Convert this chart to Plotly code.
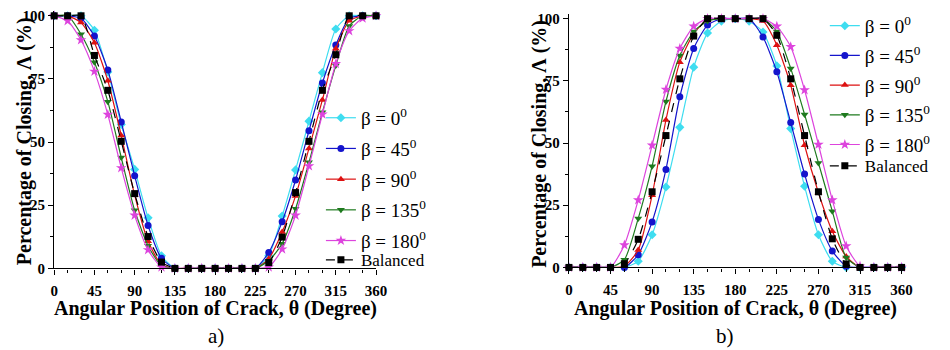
import plotly.graph_objects as go

theta = [0, 15, 30, 45, 60, 75, 90, 105, 120, 135, 150, 165, 180, 195, 210, 225,
         240, 255, 270, 285, 300, 315, 330, 345, 360]

# chart a)
a_b0 = [100, 100, 100, 94.3, 77.8, 57, 39.2, 20, 5, 0, 0, 0, 0, 0, 0, 0,
        5, 20.7, 39, 58.3, 77.5, 94.8, 100, 100, 100]
a_b45 = [100, 100, 99, 92, 78.5, 58, 36.7, 17, 4, 0, 0, 0, 0, 0, 0, 0,
         6.3, 18.5, 35, 54.5, 73.4, 88.4, 99, 100, 100]
a_b90 = [100, 100, 97.3, 89.3, 74.3, 52.6, 29, 10.7, 1.5, 0, 0, 0, 0, 0, 0, 0,
         3.8, 14.4, 28.7, 47.5, 66.7, 87, 98, 100, 100]
a_b135 = [100, 100, 92.7, 81.6, 66, 43.9, 23, 9, 1, 0, 0, 0, 0, 0, 0, 0,
          3, 9.8, 23.6, 42, 61.8, 80.3, 96, 100, 100]
a_b180 = [100, 98, 90.4, 78, 60.9, 39.8, 21, 7.3, 0.5, 0, 0, 0, 0, 0, 0, 0,
          0.5, 7.6, 21, 40.5, 61, 81, 94, 99, 100]
a_bal = [100, 100, 100, 84.3, 70.5, 50.3, 29.6, 12.6, 2.5, 0, 0, 0, 0, 0, 0, 0,
         2.3, 12.4, 30, 50.3, 70.5, 84.6, 100, 100, 100]

# chart b)
b_b0 = [0, 0, 0, 0, 0, 2.5, 13.1, 32.3, 56.3, 80.5, 94.2, 99, 100, 99, 94.6, 81,
        55.8, 32.6, 13.1, 2.5, 0, 0, 0, 0, 0]
b_b45 = [0, 0, 0, 0, 0, 5.1, 18.3, 39.4, 68.6, 88, 97.4, 100, 100, 100, 92.6, 78.6,
         58.2, 37.5, 19.3, 6.6, 0.5, 0, 0, 0, 0]
b_b90 = [0, 0, 0, 0, 0.5, 7, 29, 59.3, 82.5, 94, 99.5, 100, 100, 100, 99, 89.3,
         73.2, 49.1, 30, 14.5, 4.4, 0, 0, 0, 0]
b_b135 = [0, 0, 0, 0, 3.1, 19.7, 40.7, 66.7, 85.2, 94.8, 99, 100, 100, 100, 100, 94.8,
          80, 61.5, 42, 22.6, 4, 0, 0, 0, 0]
b_b180 = [0, 0, 0, 0, 9, 27.1, 49.1, 71.5, 88, 96.9, 100, 100, 100, 100, 100, 96.9,
          88.7, 71.3, 49.4, 27.1, 8.6, 0.5, 0, 0, 0]
b_bal = [0, 0, 0, 0, 1.5, 11.3, 30.4, 53, 75.8, 93, 100, 100, 100, 100, 100, 93.3,
         75.8, 53, 30.4, 11.5, 1.4, 0, 0, 0, 0]

names = ["β = 0<sup>0</sup>", "β = 45<sup>0</sup>", "β = 90<sup>0</sup>",
         "β = 135<sup>0</sup>", "β = 180<sup>0</sup>", "Balanced"]
colors = ["#3EDDF0", "#1414CC", "#DD1111", "#1E7A1E", "#DD44DD", "#000000"]
symbols = ["diamond", "circle", "triangle-up", "triangle-down", "star", "square"]
dashes = ["solid"] * 5 + ["dash"]

SERIF = "Liberation Serif"

fig = go.Figure()

for ser_list, xa, ya, legs, tag in [
    ([a_b0, a_b45, a_b90, a_b135, a_b180, a_bal], "x", "y", ("legend", "legend3"), "a"),
    ([b_b0, b_b45, b_b90, b_b135, b_b180, b_bal], "x2", "y2", ("legend2", "legend4"), "b"),
]:
    for i, (vals, nm, col, sym, ds) in enumerate(zip(ser_list, names, colors, symbols, dashes)):
        fig.add_trace(go.Scatter(
            x=theta, y=vals, name=nm, mode="lines+markers",
            line=dict(color=col, width=1.2, dash=ds, shape="spline", smoothing=0.6),
            marker=dict(color=col, symbol=sym, size=7 if sym != "star" else 8),
            xaxis=xa, yaxis=ya, legend=legs[1] if i == 5 else legs[0],
            legendgroup=f"{tag}{i}", cliponaxis=False,
        ))

W, H = 950, 350


def px_x(p):
    return p / W


def px_y(p):
    return (H - p) / H


axis_common = dict(
    showline=True, linecolor="black", linewidth=1.3, showgrid=False, zeroline=False,
    ticks="outside", ticklen=5, tickwidth=1.2, tickcolor="black",
    tickfont=dict(family=SERIF, size=15, color="black", weight="bold"),
    mirror=False,
)

xcommon = dict(axis_common, range=[0, 360], tickmode="array",
               tickvals=[0, 45, 90, 135, 180, 225, 270, 315, 360],
               ticklabelstandoff=3,
               minor=dict(dtick=15, tick0=0, ticks="outside", ticklen=3,
                          tickcolor="black", tickwidth=1))
ycommon = dict(axis_common, tickmode="array", tickvals=[0, 25, 50, 75, 100],
               minor=dict(dtick=12.5, tick0=0, ticks="outside", ticklen=3,
                          tickcolor="black", tickwidth=1))

leg_beta = dict(xanchor="left", yanchor="top", bgcolor="rgba(0,0,0,0)",
                font=dict(family=SERIF, size=19, color="black"),
                itemwidth=30)
leg_bal = dict(xanchor="left", yanchor="top", bgcolor="rgba(0,0,0,0)",
               font=dict(family=SERIF, size=17, color="black"),
               itemwidth=30)

fig.update_layout(
    width=W, height=H,
    margin=dict(l=0, r=0, t=0, b=0),
    paper_bgcolor="white", plot_bgcolor="white",
    xaxis=dict(xcommon, domain=[px_x(51), px_x(378)], anchor="y"),
    yaxis=dict(ycommon, domain=[px_y(274), px_y(8)], range=[0, 102], anchor="x"),
    xaxis2=dict(xcommon, domain=[px_x(574), px_x(912)], anchor="y2"),
    yaxis2=dict(ycommon, domain=[px_y(273), px_y(11)], range=[0, 102], anchor="x2"),
    legend=dict(leg_beta, x=px_x(322), y=px_y(99), tracegroupgap=3),
    legend3=dict(leg_bal, x=px_x(322), y=px_y(247)),
    legend2=dict(leg_beta, x=px_x(834), y=px_y(4), tracegroupgap=2),
    legend4=dict(leg_bal, x=px_x(834), y=px_y(150)),
    showlegend=True,
)

title_font = dict(family=SERIF, size=20, color="black", weight="bold")
annots = [
    dict(text="Angular Position of Crack, θ (Degree)", x=px_x(214.5), y=px_y(315)),
    dict(text="Angular Position of Crack, θ (Degree)", x=px_x(743), y=px_y(315)),
    dict(text="Percentage of Closing, Λ (%)", x=px_x(21), y=px_y(143), textangle=-90),
    dict(text="Percentage of Closing, Λ (%)", x=px_x(544), y=px_y(145), textangle=-90),
]
for a in annots:
    fig.add_annotation(xref="paper", yref="paper", xanchor="center", yanchor="middle",
                       showarrow=False, font=title_font, **a)

for txt, xc in [("a)", 215), ("b)", 733)]:
    fig.add_annotation(text=txt, xref="paper", yref="paper", x=px_x(xc), y=px_y(344),
                       xanchor="center", yanchor="middle", showarrow=False,
                       font=dict(family=SERIF, size=21, color="black"))

fig.write_html("out.html")
